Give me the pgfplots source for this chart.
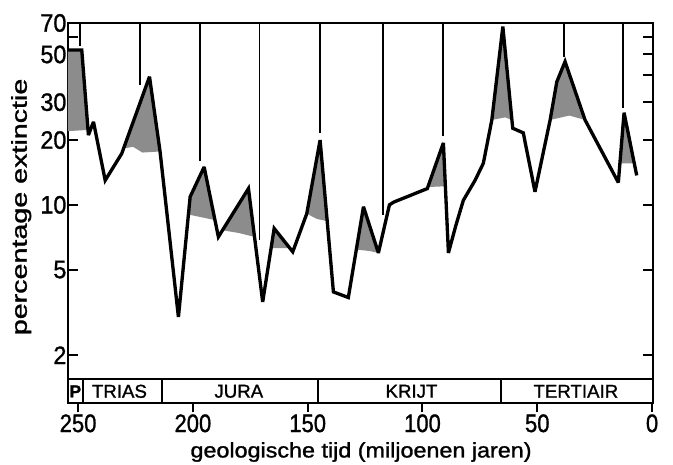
\documentclass[border=0pt]{standalone}
\usepackage{fontspec}
\setmainfont{Liberation Sans}[FakeBold=1.2]
\usepackage{graphicx}
\usepackage{pgfplots}
\pgfplotsset{compat=1.18}
\newcommand{\yl}[1]{\scalebox{1}[1.08]{#1}}
\newcommand{\xl}[1]{\scalebox{1}[1.15]{#1}}
\begin{document}
\begin{tikzpicture}
\useasboundingbox (-51pt,-45.75pt) rectangle (453.75pt,302.25pt);
\begin{axis}[
  at={(0pt,0pt)}, anchor=south west,
  scale only axis, width=438.75pt, height=285pt,
  x dir=reverse, xmin=-0.4, xmax=254.4,
  ymode=log, ymin=1.2, ymax=70,
  axis line style={line width=2pt},
  tick align=inside,
  major tick length=7.5pt,
  tick style={black, line width=1.5pt},
  every x tick/.append style={yshift=-7pt},
  xtick={250,200,150,100,50,0},
  xticklabels={\xl{250},\xl{200},\xl{150},\xl{100},\xl{50},\xl{0}},
  xtick pos=bottom,
  xticklabel style={font=\fontsize{16.5}{18}\selectfont, yshift=-5pt},
  ytick={2,5,10,20,30,40,50,60,70},
  yticklabels={\yl{2},\yl{5},\yl{10},\yl{20},\yl{30},,\yl{50},,\yl{70}},
  ytick pos=both,
  minor ytick={},
  yticklabel style={font=\fontsize{17.5}{19}\selectfont, anchor=east, inner xsep=1pt},
  xlabel={\scalebox{1}[0.9]{geologische tijd (miljoenen jaren)}},
  xlabel style={font=\fontsize{17.5}{20}\selectfont, at={(rel axis cs:0.501,-0.129)}, anchor=center},
  ylabel={\scalebox{1}[0.75]{percentage extinctie}},
  ylabel style={font=\fontsize{21.5}{24}\selectfont, at={(rel axis cs:-0.080,0.516)}, anchor=center},
]
% shaded areas
\addplot[fill=black!45, draw=none] coordinates {(254.4,52.4) (248.4,52.4) (245.7,22.3) (254.4,22.0)} -- cycle;
\addplot[fill=black!45, draw=none] coordinates {(230.2,18.3) (218.9,39.4) (214.3,17.7) (222,17.5) (226,18.6)} -- cycle;
\addplot[fill=black!45, draw=none] coordinates {(201.6,9.0) (201.2,10.9) (195.1,15.0) (190.4,8.5) (195,8.7)} -- cycle;
\addplot[fill=black!45, draw=none] coordinates {(186.5,7.6) (175.8,11.9) (173.2,7.1) (180,7.4)} -- cycle;
\addplot[fill=black!45, draw=none] coordinates {(165.9,6.3) (164.6,7.77) (157.8,6.3)} -- cycle;
\addplot[fill=black!45, draw=none] coordinates {(150.4,9.1) (144.6,20.0) (141.5,8.4) (146,8.6)} -- cycle;
\addplot[fill=black!45, draw=none] coordinates {(128.8,6.2) (125.7,9.8) (119.2,5.98) (123,6.1)} -- cycle;
\addplot[fill=black!45, draw=none] coordinates {(97.5,12.1) (90.9,19.4) (90.0,12.2)} -- cycle;
\addplot[fill=black!45, draw=none] coordinates {(69.8,24.8) (65.0,67.3) (61.1,24.8) (64,25.5)} -- cycle;
\addplot[fill=black!45, draw=none] coordinates {(44.4,24.8) (41.5,37.3) (37.9,46.3) (29.2,24.8) (36,26)} -- cycle;
\addplot[fill=black!45, draw=none] coordinates {(14.0,15.6) (12.2,26.8) (7.8,15.6)} -- cycle;
% vertical markers
\addplot[black, line width=1.4pt] coordinates {(249.1,70) (249.1,55)};
\addplot[black, line width=1.4pt] coordinates {(223.0,70) (223.0,36)};
\addplot[black, line width=1.4pt] coordinates {(196.9,70) (196.9,16)};
\addplot[black, line width=1.4pt] coordinates {(171.0,70) (171.0,6.85)};
\addplot[black, line width=1.4pt] coordinates {(144.6,70) (144.6,21.5)};
\addplot[black, line width=1.4pt] coordinates {(117.3,70) (117.3,8.95)};
\addplot[black, line width=1.4pt] coordinates {(91.2,70) (91.2,20.9)};
\addplot[black, line width=1.4pt] coordinates {(38.3,70) (38.3,48.8)};
\addplot[black, line width=1.4pt] coordinates {(12.5,70) (12.5,28.1)};
% main curve
\addplot[black, line width=2.5pt, line join=miter, miter limit=3] coordinates {
(254.4,52.4) (248.4,52.4) (245.5,21.1) (243.3,24.3) (238.2,13.0) (231.0,17.3)
(218.9,39.4) (214.3,17.7) (206.3,3.01) (201.2,10.9) (195.1,15.0) (188.9,7.1)
(175.8,11.9) (169.6,3.54) (164.6,7.77) (156.5,6.05) (150.4,9.1) (144.6,20.0)
(138.8,3.94) (132.3,3.71) (125.7,9.8) (119.2,5.98) (114.4,10.0) (112.5,10.3)
(97.9,11.9) (90.9,19.4) (88.7,5.98) (85.5,8.0) (82.2,10.5) (77.1,13.0)
(73.5,15.6) (69.8,24.8) (65.0,67.3) (60.7,22.7) (56.1,21.6) (51.0,11.5)
(44.4,24.8) (41.5,37.3) (37.9,46.3) (29.2,24.8) (14.7,12.7) (12.2,26.8) (6.7,13.7)
};
% period band
\addplot[black, line width=1.5pt] coordinates {(254.4,1.547) (-0.4,1.547)};
\addplot[black, line width=1.5pt] coordinates {(248,1.2) (248,1.547)};
\addplot[black, line width=1.5pt] coordinates {(213.5,1.2) (213.5,1.547)};
\addplot[black, line width=1.5pt] coordinates {(145.3,1.2) (145.3,1.547)};
\addplot[black, line width=1.5pt] coordinates {(65.9,1.2) (65.9,1.547)};
\node[font=\fontsize{13}{14}\selectfont\bfseries] at (axis cs:251.2,1.36) {P};
\node[font=\fontsize{14}{15}\selectfont] at (axis cs:232.0,1.36) {TRIAS};
\node[font=\fontsize{14}{15}\selectfont] at (axis cs:180.0,1.36) {JURA};
\node[font=\fontsize{14}{15}\selectfont] at (axis cs:104.8,1.36) {KRIJT};
\node[font=\fontsize{14}{15}\selectfont] at (axis cs:33.2,1.36) {TERTIAIR};
\end{axis}
\end{tikzpicture}
\end{document}
